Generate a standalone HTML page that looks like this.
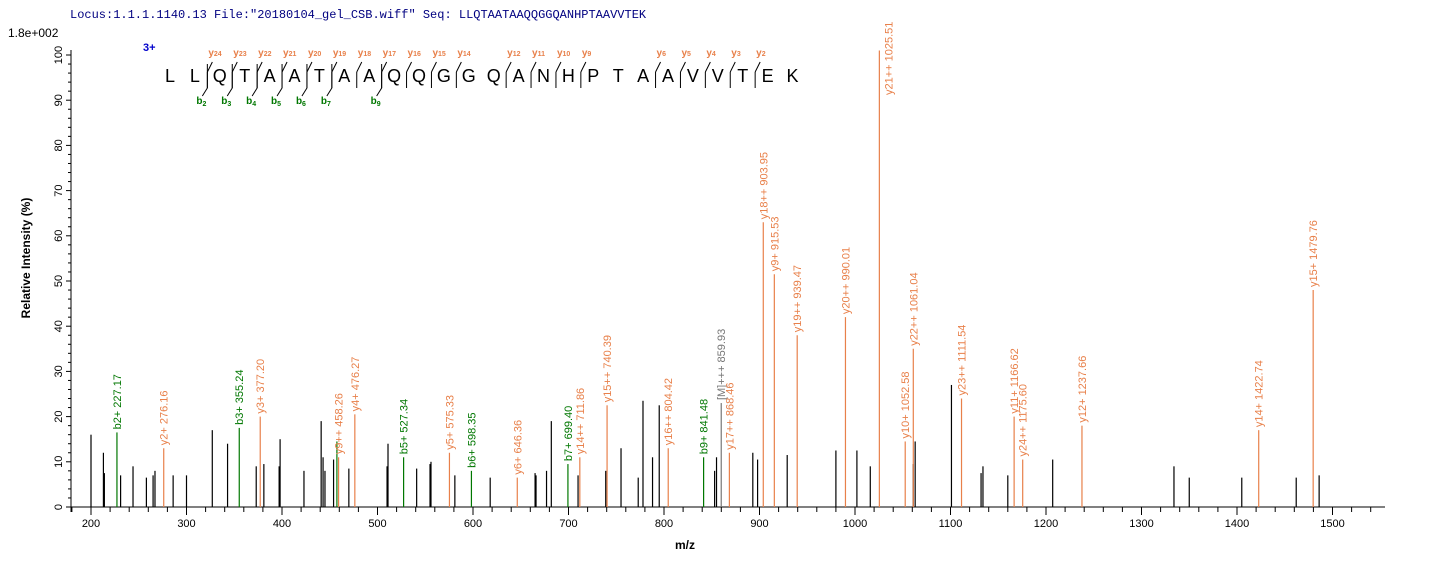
<!DOCTYPE html>
<html><head><meta charset="utf-8"><style>
body{margin:0;background:#fff;}
svg{display:block;font-family:"Liberation Sans",Arial,sans-serif;}
</style></head><body>
<svg id="s" width="1436" height="566" viewBox="0 0 1436 566" xmlns="http://www.w3.org/2000/svg">
<text x="70" y="18" font-family="Liberation Mono,monospace" font-size="12" fill="#000080">Locus:1.1.1.1140.13 File:"20180104_gel_CSB.wiff"   Seq: LLQTAATAAQQGGQANHPTAAVVTEK</text>
<text x="8" y="37" font-size="12" fill="#000">1.8e+002</text>
<text x="30" y="258" font-size="12" font-weight="bold" transform="rotate(-90 30 258)" text-anchor="middle">Relative   Intensity (%)</text>
<text x="685" y="549" font-size="12" font-weight="bold" text-anchor="middle">m/z</text>
<g id="ax"></g>
<g id="pk"></g>
<g id="seq"></g>
</svg>
<script>
var NS="http://www.w3.org/2000/svg";
function el(p,t,a,txt){var e=document.createElementNS(NS,t);for(var k in a)e.setAttribute(k,a[k]);if(txt!=null)e.textContent=txt;p.appendChild(e);return e;}
var ax=document.getElementById('ax'),pk=document.getElementById('pk'),sq=document.getElementById('seq');
function X(m){return 91+(m-200)*0.955;}
function Y(v){return 507-v*4.52;}
el(ax,'line',{x1:71,y1:50,x2:71,y2:512,stroke:'#000'});
el(ax,'line',{x1:66,y1:507,x2:1385,y2:507,stroke:'#000'});
for(var v=0;v<=100;v+=2){var y=Y(v);el(ax,'line',{x1:v%10==0?66:68,y1:y,x2:71,y2:y,stroke:'#000'});
 if(v%10==0){el(ax,'text',{x:62,y:y,'font-size':11,'text-anchor':'middle',transform:'rotate(-90 62 '+y+')'},String(v));}}
for(var m=180;m<=1550;m+=20){var x=X(m);el(ax,'line',{x1:x,y1:507,x2:x,y2:m%100==0?515:512,stroke:'#000'});
 if(m%100==0)el(ax,'text',{x:x,y:527,'font-size':11,'text-anchor':'middle'},String(m));}
var blk=[[200,16],[213,12],[214,7.5],[231,7],[244,9],[258,6.5],[265,7],[267,8],[286,7],[300,7],[327,17],[343,14],[373,9],[381,9.5],[397,9],[398,15],[423,8],[441,19],[443,11],[445,8],[454,10.5],[470,8.5],[510,9],[511,14],[541,8.5],[555,9.5],[556,10],[581,7],[618,6.5],[665,7.5],[666,7],[677,8],[682,19],[710,7],[739,8],[755,13],[773,6.5],[778,23.5],[788,11],[795,22.5],[853,8],[855,11],[893,12],[898,10.5],[929,11.5],[980,12.5],[1002,12.5],[1016,9],[1061,9.5],[1063,14.5],[1101,27],[1132,7.5],[1134,9],[1160,7],[1207,10.5],[1334,9],[1350,6.5],[1405,6.5],[1462,6.5],[1486,7]];
blk.forEach(function(p){el(pk,'line',{x1:X(p[0]),y1:507,x2:X(p[0]),y2:Y(p[1]),stroke:'#000','stroke-width':1.2});});
var O='#e8804a',G='#007700';
var col=[[227.17,16.5,G,'b2+  227.17'],[276.16,13,O,'y2+  276.16'],[355.24,17.5,G,'b3+  355.24'],[377.20,20,O,'y3+  377.20'],[457.5,14.5,G,''],[459.26,11,O,'y9++  458.26'],[476.27,20.5,O,'y4+  476.27'],[527.34,11,G,'b5+  527.34'],[575.33,12,O,'y5+  575.33'],[598.35,8,G,'b6+  598.35'],[646.36,6.5,O,'y6+  646.36'],[699.40,9.5,G,'b7+  699.40'],[711.86,11,O,'y14++  711.86'],[740.39,22.5,O,'y15++  740.39'],[804.42,13,O,'y16++  804.42'],[841.48,11,G,'b9+  841.48'],[859.93,23,'#777','[M]+++  859.93'],[868.46,12,O,'y17++  868.46'],[903.95,63,O,'y18++  903.95'],[915.53,51.5,O,'y9+  915.53'],[939.47,38,O,'y19++  939.47'],[990.01,42,O,'y20++  990.01'],[1025.51,101,O,'y21++  1025.51'],[1052.58,14.5,O,'y10+  1052.58'],[1061.04,35,O,'y22++  1061.04'],[1111.54,24,O,'y23++  1111.54'],[1166.62,20,O,'y11+  1166.62'],[1175.60,10.5,O,'y24++  1175.60'],[1237.66,18,O,'y12+  1237.66'],[1422.74,17,O,'y14+  1422.74'],[1479.76,48,O,'y15+  1479.76']];
col.forEach(function(p){var x=X(p[0]),y=Y(p[1]);el(pk,'line',{x1:x,y1:507,x2:x,y2:y,stroke:p[2],'stroke-width':1.2});
 if(p[3]){var tx=x+4,ty=y-3;if(p[1]>90){tx=x+13;ty=95;}el(pk,'text',{x:tx,y:ty,'font-size':11,fill:p[2],transform:'rotate(-90 '+tx+' '+ty+')'},p[3]);}});
var s="LLQTAATAAQQGGQANHPTAAVVTEK",x0=170,st=24.9;
el(sq,'text',{x:143,y:51,'font-size':11,'font-weight':'bold',fill:'#0000cc'},'3+');
for(var i=0;i<s.length;i++)el(sq,'text',{x:x0+i*st,y:82,'font-size':18,'text-anchor':'middle'},s[i]);
var ys=[24,23,22,21,20,19,18,17,16,15,14,12,11,10,9,6,5,4,3,2],bs=[2,3,4,5,6,7,9];
function bx(k){return x0+(k-0.5)*st;}
ys.forEach(function(n){var x=bx(26-n);el(sq,'path',{d:'M'+x+' 72 L'+(x+5)+' 62',stroke:'#000',fill:'none'});
 el(sq,'line',{x1:x,y1:72,x2:x,y2:88,stroke:'#000'});
 var t=el(sq,'text',{x:x+1,y:56,'font-size':10,'font-weight':'bold',fill:O});t.textContent='y';el(t,'tspan',{'font-size':7,dy:0},String(n));});
bs.forEach(function(n){var x=bx(n);el(sq,'path',{d:'M'+x+' 64 L'+x+' 88 L'+(x-5)+' 96',stroke:'#000',fill:'none'});
 var t=el(sq,'text',{x:x-11,y:104,'font-size':10,'font-weight':'bold',fill:G});t.textContent='b';el(t,'tspan',{'font-size':7,dy:2},String(n));});
</script>
</body></html>
